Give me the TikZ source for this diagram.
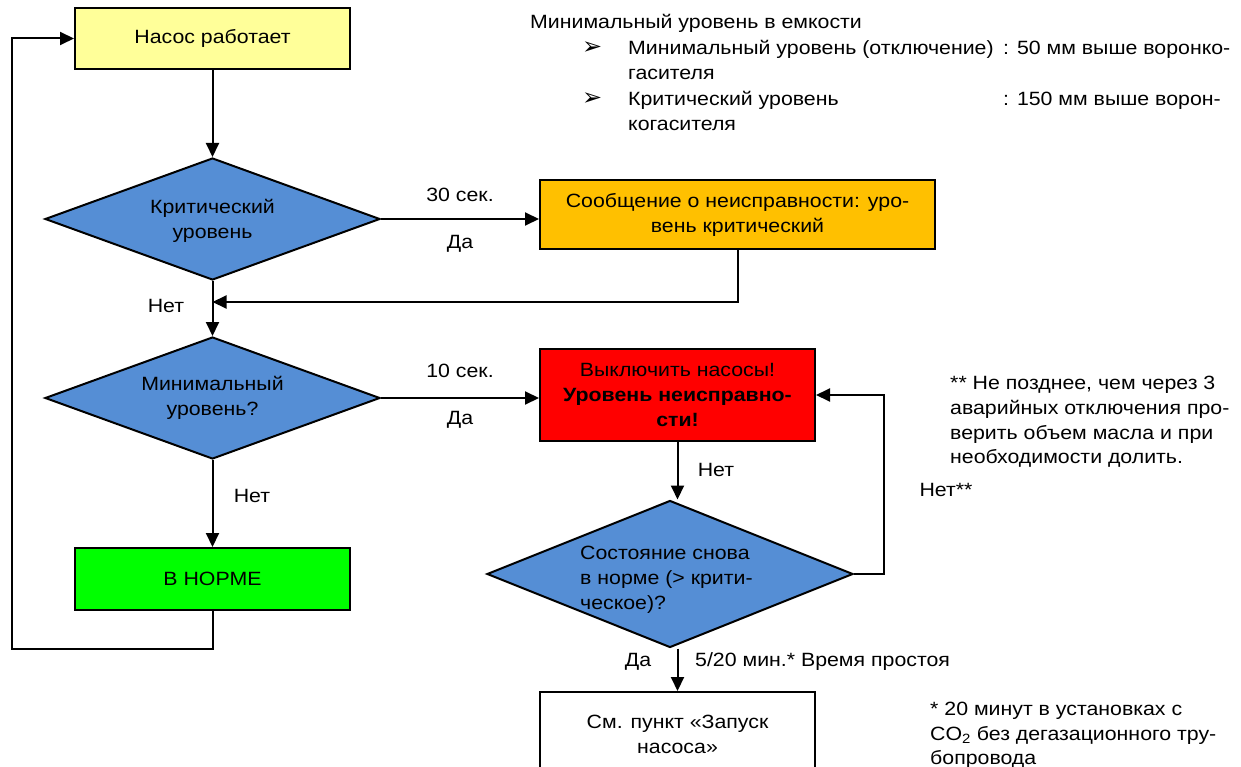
\documentclass[tikz,border=0pt]{standalone}
\usepackage{fontspec}
\setmainfont{Liberation Sans}[FakeStretch=1.11]
\newfontfamily\arrowfont{DejaVu Sans}
\usetikzlibrary{shapes.geometric,arrows.meta}

\definecolor{pumpyellow}{HTML}{FFFF99}
\definecolor{warnorange}{HTML}{FFC000}
\definecolor{alarmred}{HTML}{FF0000}
\definecolor{okgreen}{HTML}{00FF00}
\definecolor{diablue}{HTML}{558ED5}

\begin{document}
\begin{tikzpicture}[x=1pt,y=-1pt,
  font=\fontsize{19.2}{25}\selectfont,
  box/.style={draw=black, line width=2pt, rectangle, inner sep=0pt, align=center},
  dia/.style={draw=black, line width=2pt, diamond, fill=diablue, inner sep=0pt,
              minimum width=335pt, minimum height=122pt},
  conn/.style={line width=2pt},
  arr/.style={conn, -{Triangle[length=14pt,width=13pt]}},
  lbl/.style={inner sep=0pt},
  note/.style={inner sep=0pt, anchor=base west},
  bul/.style={inner sep=0pt, anchor=base west, font=\arrowfont\fontsize{24}{26}\selectfont}]

\useasboundingbox (0,0) rectangle (1241,767);

% --- main chain ---
\node[box, fill=pumpyellow, minimum width=275pt, minimum height=61pt] (run) at (212.5,38.5) {Насос работает};
\node[dia] (crit) at (212.5,219) {};
\node[lbl, align=center] (critt) at (212.5,221) {Критический\\уровень};
\node[box, fill=warnorange, minimum width=395pt, minimum height=69pt] (msg) at (737.5,214.5)
  {Сообщение о неисправности: уро-\\вень критический};
\node[dia] (mini) at (212.5,398) {};
\node[lbl, align=center] (minit) at (212.5,398) {Минимальный\\уровень?};
\node[box, fill=alarmred, minimum width=275pt, minimum height=92pt] (stop) at (677.5,395)
  {Выключить насосы!\\\textbf{Уровень неисправно-}\\\textbf{сти!}};
\node[box, fill=okgreen, minimum width=275pt, minimum height=62pt] (ok) at (212.5,579) {В НОРМЕ};
\node[dia, minimum width=366pt, minimum height=147pt] (again) at (670,574) {};
\node[lbl, align=left, anchor=west] (againt) at (580,580) {Состояние снова\\в норме (> крити-\\ческое)?};
\node[box, fill=white, minimum width=275pt, minimum height=84pt] (see) at (677.5,734)
  {См. пункт «Запуск\\насоса»};

% --- connectors ---
\coordinate (back) at (737.5,302);
\coordinate (loopA) at (212.5,649);
\coordinate (loopB) at (12,649);
\coordinate (retX) at (884,574);

\draw[arr] (run.south) -- (crit.north);
\draw[arr] (crit.east) -- (crit.east -| msg.west);
\draw[arr] (msg.south) -- (back) -- (crit.south |- back);
\draw[arr] (crit.south) -- (mini.north);
\draw[arr] (mini.east) -- (mini.east -| stop.west);
\draw[arr] (mini.south) -- (ok.north);
\draw[arr] (ok.south) -- (loopA) -- (loopB) -- (loopB |- run.west) -- (run.west);
\draw[arr] (stop.south) -- (stop.south |- again.north);
\draw[arr] (again.east) -- (retX) -- (retX |- stop.east) -- (stop.east);
\draw[arr] (see.north |- again.south) -- (see.north);

% --- connector labels ---
\node[lbl] (t30) at (460,195) {30 сек.};
\node[lbl] (yes1) at (460,244) {Да};
\node[lbl] (no1) at (166,306) {Нет};
\node[lbl] (t10) at (460,371) {10 сек.};
\node[lbl] (yes2) at (460,420) {Да};
\node[lbl] (no2) at (252,496) {Нет};
\node[lbl] (no3) at (716,470) {Нет};
\node[lbl] (no4) at (946,490) {Нет**};
\node[lbl] (yes3) at (638,662) {Да};
\node[lbl, anchor=west] (idle) at (695,662) {5/20 мин.* Время простоя};

% --- level notes ---
\node[note] (lvl) at (530,29) {Минимальный уровень в емкости};
\node[bul] (b1) at (582,55) {➢};
\node[note] (l1) at (628,55) {Минимальный уровень (отключение)};
\node[note] (v1) at (1003,55) {: 50 мм выше воронко-};
\node[note] (l1b) at (628,80) {гасителя};
\node[bul] (b2) at (582,106) {➢};
\node[note] (l2) at (628,106) {Критический уровень};
\node[note] (v2) at (1003,106) {: 150 мм выше ворон-};
\node[note] (l2b) at (628,131) {когасителя};

% --- footnotes ---
\node[note] (f1a) at (950,389) {** Не позднее, чем через 3};
\node[note] (f1b) at (950,414) {аварийных отключения про-};
\node[note] (f1c) at (950,439) {верить объем масла и при};
\node[note] (f1d) at (950,463) {необходимости долить.};

\node[note] (f2a) at (930,715) {* 20 минут в установках с};
\node[note] (f2b) at (930,740) {CO\textsubscript{2} без дегазационного тру-};
\node[note] (f2c) at (930,764) {бопровода};
\end{tikzpicture}
\end{document}
